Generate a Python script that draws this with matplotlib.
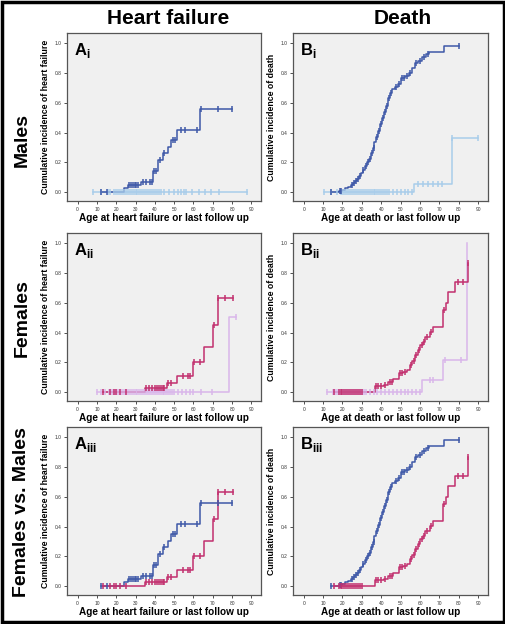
import numpy as np
import matplotlib
matplotlib.use('Agg')
import matplotlib.pyplot as plt
from matplotlib.patches import Rectangle

plt.rcParams['font.family'] = ['Liberation Sans', 'DejaVu Sans']
plt.rcParams['mathtext.fontset'] = 'custom'
plt.rcParams['mathtext.bf'] = 'Liberation Sans:bold'
plt.rcParams['mathtext.rm'] = 'Liberation Sans'

# Heart failure, males (dark blue)
m_hf_t = [24.1, 25.9, 32.8, 39.1, 41.9, 44.0, 46.6, 48.3, 51.4, 63.4]
m_hf_v = [0.027, 0.049, 0.068, 0.142, 0.213, 0.26, 0.30, 0.35, 0.415, 0.562]
m_hf_span = [12, 80.2]
m_hf_cens = [12, 15, 26.5, 27.5, 28.5, 29.5, 30.5, 31.5, 34, 35.5, 37.5, 38.5,
             39.5, 40.5, 42.5, 45, 49.5, 50.5, 53.4, 55.7, 62, 63.8, 72.9, 80.2]

# Heart failure, males (light blue)
ml_hf_t = []
ml_hf_v = []
ml_hf_span = [7.8, 87.9]
ml_hf_cens = [7.8, 12, 15.5, 17, 19, 20, 21, 22, 23, 24, 25, 26, 27, 28, 29, 30,
              31, 32, 33, 34, 35, 36, 37, 38, 39, 40, 41, 42, 43, 45, 47.5, 50,
              52, 53.5, 55, 56, 59, 63, 66, 69, 73, 87.9]

# Death, males (dark blue)
m_d_t = [18, 20, 21.5, 23, 24.5, 25.5, 26.5, 27.5, 28.5, 29.5, 30.5, 31.5, 32.5,
         33.5, 34.5, 35.5, 36.5, 37.5, 38.5, 39.5, 40.5, 41.5, 42.5, 43.5, 44.5,
         45.5, 47, 48.5, 50, 52, 54.5, 56, 57.5, 59, 61, 63, 64.5, 72.2]
m_d_v = [0.008, 0.015, 0.025, 0.035, 0.05, 0.06, 0.075, 0.09, 0.11, 0.13, 0.15,
         0.175, 0.2, 0.225, 0.26, 0.295, 0.335, 0.37, 0.41, 0.455, 0.5, 0.54,
         0.58, 0.63, 0.665, 0.69, 0.705, 0.725, 0.765, 0.78, 0.8, 0.835, 0.87,
         0.885, 0.91, 0.93, 0.945, 0.985]
m_d_span = [14, 80]
m_d_cens = [14, 18.5, 19, 25, 26, 27, 28, 29, 30.5, 32, 33, 34, 35, 36, 38, 39,
            40, 41, 42, 43, 44, 45, 47.5, 49, 50.5, 51.5, 53, 55, 58, 60, 62, 64, 80]

# Death, males (light blue)
ml_d_t = [57, 76.3]
ml_d_v = [0.056, 0.367]
ml_d_span = [10.3, 90]
ml_d_cens = [10.3, 14, 17, 19, 20, 21, 22, 23, 24, 25, 26, 27, 28, 29, 30, 31,
             32, 33, 34, 35, 36, 37, 38, 39, 40, 41, 42, 43, 44, 46, 48, 50, 52,
             54, 56, 59, 61.7, 64.3, 66.9, 69, 71.1, 76.3, 90]

# Heart failure, females (dark pink)
f_hf_t = [34.9, 46.1, 51.3, 59.9, 65.4, 70.3, 72.5]
f_hf_v = [0.025, 0.06, 0.11, 0.20, 0.305, 0.45, 0.63]
f_hf_span = [13.4, 80.6]
f_hf_cens = [13.4, 17, 19, 20, 22, 25, 35.5, 37, 38.5, 40, 41, 42, 43, 44, 45,
             46.6, 48.3, 54.7, 57.3, 58.2, 60.3, 63.4, 70.5, 72.9, 76.3, 80.6]

# Heart failure, females (light pink)
fl_hf_t = [78.5]
fl_hf_v = [0.505]
fl_hf_span = [10, 82.3]
fl_hf_cens = [10, 12, 14, 16, 17, 18, 19, 20, 21, 22, 23, 24, 25, 26, 27, 28,
              29, 30, 31, 32, 33, 34, 35, 36, 37, 38, 39, 40, 41, 42, 43, 44, 45,
              46, 47, 48, 49, 50, 52, 54, 56, 58, 60, 64, 69.4, 82.3]

# Death, females (dark pink)
f_d_t = [36.9, 41.2, 43.7, 46, 48.9, 51, 53.2, 54.9, 56, 57.5, 58.8, 60, 61.3,
         62.6, 65.2, 66.9, 71.7, 73.4, 74.6, 78, 84.6]
f_d_v = [0.038, 0.049, 0.067, 0.09, 0.127, 0.135, 0.149, 0.18, 0.21, 0.25, 0.28,
         0.316, 0.34, 0.37, 0.405, 0.44, 0.55, 0.60, 0.67, 0.74, 0.87]
f_d_span = [15.4, 84.6]
f_d_cens = [15.4, 18, 19, 20, 21, 22, 23, 24, 25, 26, 27, 28, 29, 30, 37.5, 38.5,
            40, 42, 44.5, 45.5, 49.5, 50.5, 52, 55.5, 57, 58, 59.5, 61, 62, 63.5,
            65.8, 72.2, 79.7, 81.9, 84.6]

# Death, females (light pink)
fl_d_t = [60.9, 71.7, 84.0, 84.3]
fl_d_v = [0.083, 0.216, 0.605, 1.0]
fl_d_span = [12, 84.3]
fl_d_cens = [12, 15, 16, 17, 18, 19, 20, 21, 22, 23, 24, 25, 26, 27, 28, 29, 30,
             31, 32, 34, 36, 38, 40, 42, 44, 46, 48, 50, 52, 54, 56, 58, 60, 65.1,
             66.9, 72.6, 81.2]

x_ticks = [0, 10, 20, 30, 40, 50, 60, 70, 80, 90]
y_ticks = [0.0, 0.2, 0.4, 0.6, 0.8, 1.0]

DARK_BLUE = '#3E58A8'
LIGHT_BLUE = '#A9CDEA'
DARK_PINK = '#C2306E'
LIGHT_PINK = '#D9B6EA'


def km(ax, t, v, span, cens, color, lw=1.1):
    x = [span[0]] + list(t) + [span[1]]
    y = [0] + list(v) + [v[-1] if v else 0]
    ax.step(x, y, where='post', color=color, lw=lw, zorder=3)
    levels = np.r_[0, v]
    idx = np.searchsorted(np.array(t, dtype=float), cens, side='right')
    ax.plot(cens, levels[idx], ls='none', marker='|', ms=5, mew=1.1,
            color=color, zorder=4)


fig = plt.figure(figsize=(5.06, 6.24), dpi=100)
W, H = 506, 624


def axes_px(l, t, r, b):
    return fig.add_axes([l / W, 1 - b / H, (r - l) / W, (b - t) / H])


rows = [(33, 201), (233, 401), (427, 595)]
cols = [(67, 261), (293, 488)]
subs = ['i', 'ii', 'iii']
xlabels = ['Age at heart failure or last follow up', 'Age at death or last follow up']
ylabels = ['Cumulative incidence of heart failure', 'Cumulative incidence of death']

axes = {}
for r, (top, bot) in enumerate(rows):
    for c, (lft, rgt) in enumerate(cols):
        ax = axes_px(lft, top, rgt, bot)
        axes[(r, c)] = ax
        ax.set_facecolor('#F0F0F0')
        ax.set_xlim(-5.5, 95)
        ax.set_ylim(-0.06, 1.07)
        ax.set_xticks(x_ticks)
        ax.set_yticks(y_ticks)
        ax.set_yticklabels(['%.1f' % y for y in y_ticks])
        ax.tick_params(labelsize=3.5, length=2.5, width=0.6, pad=1.5,
                       colors='#333333')
        for s in ax.spines.values():
            s.set_color('#555555')
            s.set_linewidth(0.9)
        ax.set_xlabel(xlabels[c], fontsize=7.2, fontweight='bold', labelpad=1)
        ax.set_ylabel(ylabels[c], fontsize=6.3, fontweight='bold', labelpad=3)
        letter = 'AB'[c]
        ax.text(0.035, 0.95, r'$\mathbf{%s}_{\mathbf{%s}}$' % (letter, subs[r]),
                transform=ax.transAxes, fontsize=12, va='top', ha='left')

km(axes[(0, 0)], ml_hf_t, ml_hf_v, ml_hf_span, ml_hf_cens, LIGHT_BLUE)
km(axes[(0, 0)], m_hf_t, m_hf_v, m_hf_span, m_hf_cens, DARK_BLUE)
km(axes[(0, 1)], ml_d_t, ml_d_v, ml_d_span, ml_d_cens, LIGHT_BLUE)
km(axes[(0, 1)], m_d_t, m_d_v, m_d_span, m_d_cens, DARK_BLUE)
km(axes[(1, 0)], fl_hf_t, fl_hf_v, fl_hf_span, fl_hf_cens, LIGHT_PINK)
km(axes[(1, 0)], f_hf_t, f_hf_v, f_hf_span, f_hf_cens, DARK_PINK)
km(axes[(1, 1)], fl_d_t, fl_d_v, fl_d_span, fl_d_cens, LIGHT_PINK)
km(axes[(1, 1)], f_d_t, f_d_v, f_d_span, f_d_cens, DARK_PINK)
km(axes[(2, 0)], m_hf_t, m_hf_v, m_hf_span, m_hf_cens, DARK_BLUE)
km(axes[(2, 0)], f_hf_t, f_hf_v, f_hf_span, f_hf_cens, DARK_PINK)
km(axes[(2, 1)], m_d_t, m_d_v, m_d_span, m_d_cens, DARK_BLUE)
km(axes[(2, 1)], f_d_t, f_d_v, f_d_span, f_d_cens, DARK_PINK)

# column and row titles
fig.text(168 / W, 1 - 19 / H, 'Heart failure', fontsize=15, fontweight='bold',
         ha='center', va='center')
fig.text(403 / W, 1 - 19 / H, 'Death', fontsize=15, fontweight='bold',
         ha='center', va='center')
for label, yc in [('Males', 140), ('Females', 318), ('Females vs. Males', 512)]:
    fig.text(22 / W, 1 - yc / H, label, fontsize=14, fontweight='bold',
             rotation=90, ha='center', va='center')

fig.patches.append(Rectangle((2 / W, 2 / H), 502 / W, 620 / H,
                             transform=fig.transFigure, fill=False,
                             edgecolor='black', linewidth=2.5))

fig.savefig('out.png', dpi=100)
